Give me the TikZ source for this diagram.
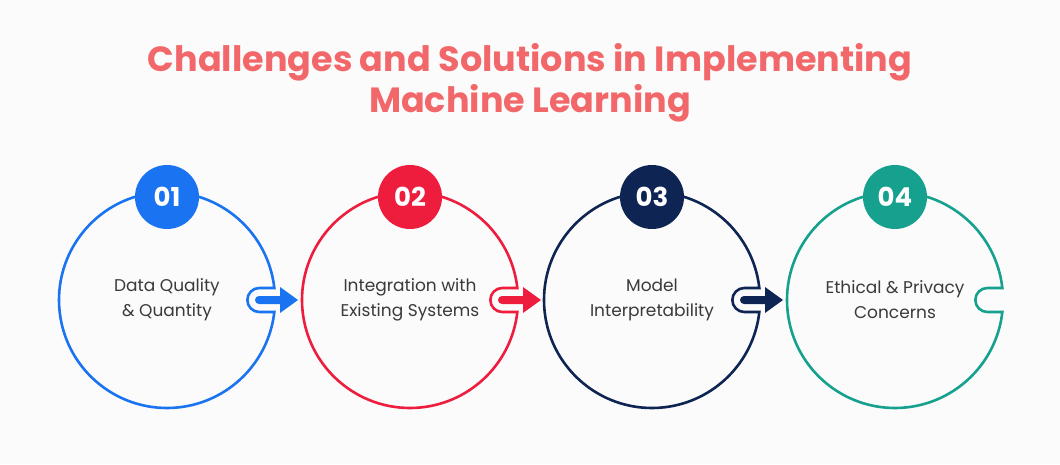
\documentclass[tikz,border=0pt]{standalone}
\usepackage{fontspec}
\setmainfont{Poppins}
\definecolor{title}{HTML}{F2686A}
\definecolor{cA}{HTML}{1A73F0}
\definecolor{cB}{HTML}{EE1D3D}
\definecolor{cC}{HTML}{0E2452}
\definecolor{cD}{HTML}{16A08E}
\definecolor{txt}{HTML}{3A3A3A}
\begin{document}
\begin{tikzpicture}[x=1pt,y=1pt,
  ring/.style={line width=2.6pt},
  badge/.style={circle,minimum size=64pt,inner sep=0pt,text=white,font=\fontsize{26}{26}\selectfont\bfseries},
  label/.style={align=center,text=txt,font=\fontsize{17}{25}\selectfont},
  ttl/.style={align=center,text=title,font=\fontsize{35}{41}\selectfont\bfseries}]
\fill[white!97!gray] (0,0) rectangle (1060,464);
\useasboundingbox (0,0) rectangle (1060,464);
\node[ttl] (title) at (530,381) {Challenges and Solutions in Implementing\\Machine Learning};
\foreach \cx/\col/\num/\txt/\arr [count=\i] in {
  167/cA/01/{Data Quality\\\& Quantity}/1,
  410/cB/02/{Integration with\\Existing Systems}/1,
  652/cC/03/{Model\\Interpretability}/1,
  895/cD/04/{Ethical \& Privacy\\Concerns}/0}{
  \draw[ring,\col] (\cx,164) ++(6.38:108) arc(6.38:353.62:108) -- ++(-15,0) arc(270:90:12) -- cycle;
  \node[label] (t\i) at (\cx,164) {\txt};
  \node[badge,fill=\col] (b\i) at (\cx,267) {\num};
  \ifnum\arr=1
    \fill[\col] (\cx+92,168) -- (\cx+113,168) -- (\cx+113,177) -- (\cx+131,164) -- (\cx+113,151) -- (\cx+113,160) -- (\cx+92,160) arc(270:90:4) -- cycle;
  \fi
}
\end{tikzpicture}
\end{document}
